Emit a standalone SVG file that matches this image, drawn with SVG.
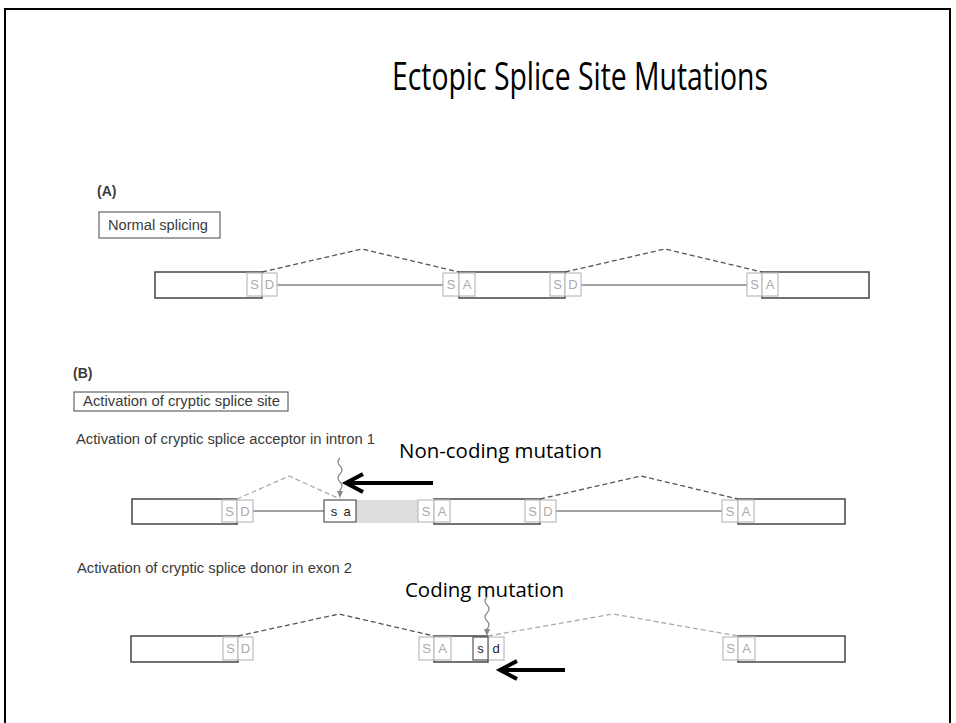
<svg xmlns="http://www.w3.org/2000/svg" width="956" height="723" viewBox="0 0 956 723">
<defs>
<style>
.frame{fill:none;stroke:#000;stroke-width:2}
.title{font-family:"Open Sans","Liberation Sans",sans-serif;font-size:38px;fill:#000}
.call{font-family:"Open Sans","Liberation Sans",sans-serif;font-size:20px;fill:#000}
.lbl{font-family:"Liberation Sans",Arial,sans-serif;font-size:14px;fill:#3a3a3a}
.bold{font-weight:bold}
.box{fill:none;stroke:#444;stroke-width:1}
.exon{fill:none;stroke:#444;stroke-width:1.5}
.site{fill:#fff;stroke:#bbb;stroke-width:1.2}
.siteD{fill:#fff;stroke:#555;stroke-width:1.2}
.st{font-family:"Liberation Sans",Arial,sans-serif;font-size:13px;fill:#aaa;text-anchor:middle}
.stD{font-family:"Liberation Sans",Arial,sans-serif;font-size:13px;fill:#222;text-anchor:middle}
.intron{stroke:#444;stroke-width:1;fill:none}
.dash{stroke:#555;stroke-width:1.3;stroke-dasharray:5,3;fill:none}
.dashL{stroke:#aaa;stroke-width:1.3;stroke-dasharray:5,3;fill:none}
.wave{stroke:#888;stroke-width:1.2;fill:none}
.arrow{stroke:#000;stroke-width:4;fill:none;stroke-linecap:butt}
</style>
</defs>
<rect class="frame" x="5" y="9" width="945" height="730"/>
<text class="title" x="392" y="90" textLength="376" lengthAdjust="spacingAndGlyphs">Ectopic Splice Site Mutations</text>

<g id="panelA">
<text class="lbl bold" x="97" y="196">(A)</text>
<g id="boxA"><rect class="box" x="99" y="212" width="121" height="26"/><text class="lbl" x="108" y="230" textLength="100" lengthAdjust="spacingAndGlyphs">Normal splicing</text></g>
</g>

<g id="rowA">
<line class="intron" x1="277" y1="285" x2="443" y2="285"/>
<line class="intron" x1="581" y1="285" x2="747" y2="285"/>
<g id="A-exon1"><rect class="exon" x="155" y="272" width="107" height="26"/>
<rect class="site" x="247" y="273" width="15" height="23"/><text class="st" x="254.5" y="289">S</text>
<rect class="site" x="262" y="273" width="15" height="23"/><text class="st" x="269.5" y="289">D</text></g>
<g id="A-exon2"><rect class="exon" x="459" y="272" width="106" height="26"/>
<rect class="site" x="443" y="273" width="16" height="23"/><text class="st" x="451" y="289">S</text>
<rect class="site" x="459" y="273" width="16" height="23"/><text class="st" x="467" y="289">A</text>
<rect class="site" x="550" y="273" width="15" height="23"/><text class="st" x="557.5" y="289">S</text>
<rect class="site" x="565" y="273" width="16" height="23"/><text class="st" x="573" y="289">D</text></g>
<g id="A-exon3"><rect class="exon" x="762" y="272" width="107" height="26"/>
<rect class="site" x="747" y="273" width="15" height="23"/><text class="st" x="754.5" y="289">S</text>
<rect class="site" x="762" y="273" width="16" height="23"/><text class="st" x="770" y="289">A</text></g>
</g>

<g id="panelB">
<text class="lbl bold" x="73" y="378">(B)</text>
<g id="boxB"><rect class="box" x="74" y="392" width="214" height="19"/><text class="lbl" x="83" y="406" textLength="197" lengthAdjust="spacingAndGlyphs">Activation of cryptic splice site</text></g>
<text class="lbl" x="76" y="444" textLength="299" lengthAdjust="spacingAndGlyphs">Activation of cryptic splice acceptor in intron 1</text>
<text class="lbl" x="77" y="573" textLength="275" lengthAdjust="spacingAndGlyphs">Activation of cryptic splice donor in exon 2</text>
<text class="call" x="399" y="458" textLength="203" lengthAdjust="spacingAndGlyphs">Non-coding mutation</text>
<text class="call" x="405" y="597" textLength="159" lengthAdjust="spacingAndGlyphs">Coding mutation</text>
</g>

<g id="rowB1">
<line class="intron" x1="253" y1="511" x2="324" y2="511"/>
<line class="intron" x1="556" y1="511" x2="722" y2="511"/>
<rect x="356" y="500" width="62" height="23" fill="#ddd"/>
<g id="B1-exon1"><rect class="exon" x="132" y="499" width="105" height="25"/>
<rect class="site" x="222" y="500" width="15" height="22"/><text class="st" x="229.5" y="516">S</text>
<rect class="site" x="237" y="500" width="16" height="22"/><text class="st" x="245" y="516">D</text></g>
<g id="B1-cryptic"><rect class="siteD" x="324" y="500" width="32" height="22"/><text class="stD" x="334" y="516">s</text><text class="stD" x="347" y="516">a</text></g>
<g id="B1-exon2"><rect class="exon" x="434" y="499" width="106" height="25"/>
<rect class="site" x="418" y="500" width="16" height="22"/><text class="st" x="426" y="516">S</text>
<rect class="site" x="434" y="500" width="16" height="22"/><text class="st" x="442" y="516">A</text>
<rect class="site" x="525" y="500" width="15" height="22"/><text class="st" x="532.5" y="516">S</text>
<rect class="site" x="540" y="500" width="16" height="22"/><text class="st" x="548" y="516">D</text></g>
<g id="B1-exon3"><rect class="exon" x="738" y="499" width="107" height="25"/>
<rect class="site" x="722" y="500" width="16" height="22"/><text class="st" x="730" y="516">S</text>
<rect class="site" x="738" y="500" width="16" height="22"/><text class="st" x="746" y="516">A</text></g>
</g>

<g id="rowB2">
<g id="B2-exon1"><rect class="exon" x="131" y="636" width="107" height="26"/>
<rect class="site" x="223" y="637" width="15" height="23"/><text class="st" x="230.5" y="653">S</text>
<rect class="site" x="238" y="637" width="15" height="23"/><text class="st" x="245.5" y="653">D</text></g>
<g id="B2-exon2"><rect class="exon" x="434" y="636" width="54" height="26"/>
<rect class="site" x="419" y="637" width="15" height="23"/><text class="st" x="426.5" y="653">S</text>
<rect class="site" x="434" y="637" width="17" height="23"/><text class="st" x="442.5" y="653">A</text>
<rect class="site" x="488" y="637" width="16" height="23"/><text class="stD" x="496" y="653">d</text>
<rect class="siteD" x="473" y="637" width="15" height="23"/><text class="stD" x="480.5" y="653">s</text></g>
<g id="B2-exon3"><rect class="exon" x="738" y="636" width="107" height="26"/>
<rect class="site" x="723" y="637" width="15" height="23"/><text class="st" x="730.5" y="653">S</text>
<rect class="site" x="738" y="637" width="17" height="23"/><text class="st" x="746.5" y="653">A</text></g>
</g>

<g id="connectors">
<polyline class="dash" points="262,272 362,249 459,272"/>
<polyline class="dash" points="565,272 665,249 762,272"/>
<polyline class="dashL" points="237,499 289,476 340,499"/>
<polyline class="dash" points="540,499 641,476 738,499"/>
<polyline class="dash" points="238,636 339,614 434,636"/>
<polyline class="dashL" points="488,636 613,614 738,636"/>
<path class="wave" d="M340,458 q-4,4 0,8 q4,4 0,8 q-4,4 0,8 q4,4 0,8 l0,3"/>
<path d="M337,491 L343,491 L340,498 Z" fill="#888"/>
<path class="wave" d="M487,597 q-4,4 0,8 q4,4 0,8 q-4,4 0,8 q4,4 0,8 l0,2"/>
<path d="M484,629 L490,629 L487,636 Z" fill="#888"/>
<line class="arrow" x1="433" y1="483" x2="346" y2="483"/>
<polyline class="arrow" points="363,474 346,483 363,492"/>
<line class="arrow" x1="565" y1="670" x2="500" y2="670"/>
<polyline class="arrow" points="517,661 500,670 517,679"/>
</g>
</svg>
